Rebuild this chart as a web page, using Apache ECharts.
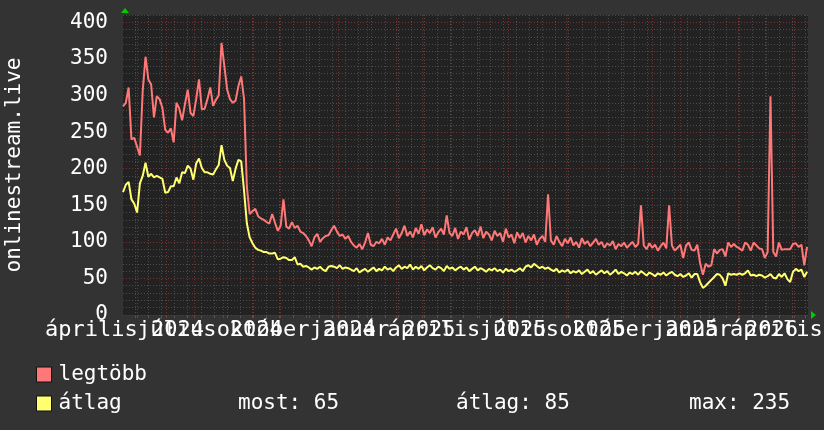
<!DOCTYPE html>
<html><head><meta charset="utf-8">
<script src="https://cdn.jsdelivr.net/npm/echarts@6/dist/echarts.min.js"></script>
<style>html,body{margin:0;padding:0;background:#333333;}#c{width:824px;height:430px;}</style>
</head><body><div id="c"></div>
<script>
// ---- data ----
const startDate = '2024-04-16';
const endDate = '2026-04-16';
const stepDays = 3;
const legtobb = [
285,290,311,240,242,230,218,306,353,322,
315,270,299,295,283,253,249,255,236,290,
282,266,288,308,276,272,295,322,281,282,
295,311,286,294,300,372,340,308,295,290,
293,313,326,295,175,138,142,145,135,132,
130,127,125,138,126,115,122,158,121,118,
127,119,122,114,112,108,102,94,106,111,
100,105,108,109,116,122,114,108,110,104,
108,
100,95,92,97,90,99,112,96,94,100,
98,104,96,106,102,110,118,105,112,122,
108,114,106,119,111,124,109,117,112,120,
106,113,118,110,136,112,108,119,104,114,
110,120,103,112,116,108,121,105,114,110,
102,115,108,112,100,118,106,110,98,113,
105,112,99,108,102,110,96,104,108,100,
165,
102,96,108,100,94,104,98,106,95,
100,92,105,97,101,94,99,104,96,100,
92,98,95,101,90,97,94,99,92,96,
100,93,97,
150,
95,90,98,92,96,88,94,99,91,
150,
95,88,92,96,
78,95,99,89,88,96,71,55,70,66,68,
90,84,89,90,80,99,93,97,93,91,
88,99,96,88,99,95,91,90,78,86,
299,86,80,99,89,90,90,90,97,98,
93,96,68,93
];
const atlag = [
168,178,182,158,152,140,180,190,208,189,
193,188,190,188,186,167,168,176,176,188,
180,195,194,204,200,185,207,214,201,195,
195,193,192,199,205,232,212,204,201,183,
200,212,210,170,125,106,98,92,89,88,
86,86,84,84,85,76,77,79,78,75,
75,79,69,70,66,67,65,62,65,63,
66,62,60,66,67,66,64,68,63,65,
64,
62,60,64,58,61,63,59,62,65,60,
63,61,66,62,64,60,65,68,63,66,
64,69,62,66,63,67,61,65,68,64,
62,66,64,60,67,63,65,61,64,66,
62,65,60,63,66,61,64,62,59,63,
61,64,60,62,58,63,60,62,59,61,
64,60,66,68,65,70,67,64,66,63,
65,62,60,63,58,61,59,62,57,60,
58,61,56,59,62,57,60,55,58,61,
57,60,55,58,62,56,59,57,54,58,
56,59,55,60,57,54,58,56,53,57,
55,58,54,57,59,55,53,56,
52,54,57,51,56,56,45,37,40,44,48,
52,56,55,50,40,57,55,56,55,57,
55,57,61,54,55,53,55,54,51,53,
56,51,50,56,52,57,49,45,59,63,
60,62,52,59
];
const xLabels = ['április 2024','július 2024','október 2024','január 2025','április 2025','július 2025','október 2025','január 2026','április 2026'];
const xLabelDates = ['2024-04-16','2024-07-16','2024-10-16','2025-01-16','2025-04-16','2025-07-16','2025-10-16','2026-01-16','2026-04-16'];
const seriesNames = ['legtöbb','átlag'];
const yAxisTitle = 'onlinestream.live';
const statTexts = ['most: 65','átlag: 85','max: 235'];

// ---- build ----
const DAY = 86400000;
const t0 = Date.parse(startDate), t1 = Date.parse(endDate);
const toPairs = arr => arr.map((v, i) => [t0 + i * stepDays * DAY, v]);
const labelTimes = xLabelDates.map(d => Date.parse(d));
const monthStarts = [];
for (let y = 2024; y <= 2026; y++) for (let m = 0; m < 12; m++) {
  const t = Date.UTC(y, m, 1); if (t > t0 && t < t1) monthStarts.push(t);
}
const biWeeks = [];
{ let a = Date.UTC(2025, 6, 7); while (a - 14 * DAY > t0) a -= 14 * DAY;
  for (let t = a; t < t1; t += 14 * DAY) biWeeks.push(t); }

const FONT = '"DejaVu Sans Mono", monospace';
const RED = '#ff7878', YEL = '#ffff70';

// label axes: every third label on its own axis so that ECharts never drops overlapping ones
const labelAxes = [0, 1, 2].map(k => {
  const vals = labelTimes.filter((_, i) => i % 3 === k);
  return {type: 'value', min: t0, max: t1, position: 'bottom',
    axisLine: {show: false}, splitLine: {show: false},
    axisTick: {show: false, customValues: vals},
    axisLabel: {customValues: vals, hideOverlap: false, showMinLabel: true, showMaxLabel: true,
      color: '#ffffff', fontFamily: FONT, fontSize: 22, margin: 4, padding: [0, 0, 0, 3],
      formatter: v => { const i = labelTimes.indexOf(v); return i >= 0 ? xLabels[i] : ''; }}};
});

const chart = echarts.init(document.getElementById('c'), null, {renderer: 'canvas'});
chart.setOption({
  animation: false,
  backgroundColor: '#333333',
  grid: {left: 123, right: 16, top: 15, bottom: 115, show: true, backgroundColor: '#222222', borderWidth: 0,
         containLabel: false, outerBoundsMode: 'none'},
  xAxis: [
    {type: 'value', min: t0, max: t1, position: 'bottom', z: 1,
     axisLine: {show: false}, axisLabel: {show: false, customValues: biWeeks},
     axisTick: {show: true, customValues: biWeeks, length: 3, lineStyle: {color: '#555555'}},
     splitLine: {show: true, lineStyle: {color: '#4c4c4c', type: [1, 2], width: 1}}},
    {type: 'value', min: t0, max: t1, position: 'bottom', z: 2,
     axisLine: {show: false}, axisLabel: {show: false, customValues: monthStarts},
     axisTick: {show: true, customValues: monthStarts, length: 3, lineStyle: {color: '#8a3434'}},
     splitLine: {show: true, lineStyle: {color: '#743232', type: [1, 2], width: 1}}}
  ].concat(labelAxes),
  yAxis: [
    {type: 'value', min: 0, max: 410, interval: 10, position: 'left',
     name: yAxisTitle, nameLocation: 'middle', nameRotate: 90, nameGap: 98,
     nameTextStyle: {color: '#ffffff', fontFamily: FONT, fontSize: 21},
     axisLine: {show: false}, axisTick: {show: false},
     axisLabel: {color: '#ffffff', fontFamily: FONT, fontSize: 21, margin: 15, padding: [5, 0, 0, 0],
       formatter: v => (v % 50 === 0 ? String(v) : '')},
     splitLine: {show: true, lineStyle: {color: '#4c4c4c', type: [1, 2], width: 1}}},
    {type: 'value', min: 0, max: 410, interval: 50, position: 'left', z: 2,
     axisLine: {show: false}, axisTick: {show: false}, axisLabel: {show: false},
     splitLine: {show: true, lineStyle: {color: '#743232', type: [1, 2], width: 1}}}
  ],
  legend: {
    data: seriesNames, orient: 'vertical', left: 31, top: 359, itemWidth: 15, itemHeight: 15, itemGap: 8,
    icon: 'rect', itemStyle: {borderColor: '#111111', borderWidth: 1},
    textStyle: {color: '#ffffff', fontFamily: FONT, fontSize: 21, padding: [0, 0, 0, 2]}
  },
  graphic: [
    {type: 'polygon', shape: {points: [[121, 13], [125, 8], [129, 13]]}, style: {fill: '#00cc00'}},
    {type: 'polygon', shape: {points: [[811, 311], [816, 315], [811, 319]]}, style: {fill: '#00cc00'}},
    {type: 'text', left: 238, top: 393, style: {text: statTexts[0], fill: '#ffffff', font: '21px ' + FONT}},
    {type: 'text', left: 456, top: 393, style: {text: statTexts[1], fill: '#ffffff', font: '21px ' + FONT}},
    {type: 'text', left: 689, top: 393, style: {text: statTexts[2], fill: '#ffffff', font: '21px ' + FONT}}
  ],
  series: [
    {name: seriesNames[0], type: 'line', data: toPairs(legtobb), showSymbol: false, color: RED,
     lineStyle: {color: RED, width: 2}, z: 5},
    {name: seriesNames[1], type: 'line', data: toPairs(atlag), showSymbol: false, color: YEL,
     lineStyle: {color: YEL, width: 2}, z: 6}
  ]
});
</script></body></html>
